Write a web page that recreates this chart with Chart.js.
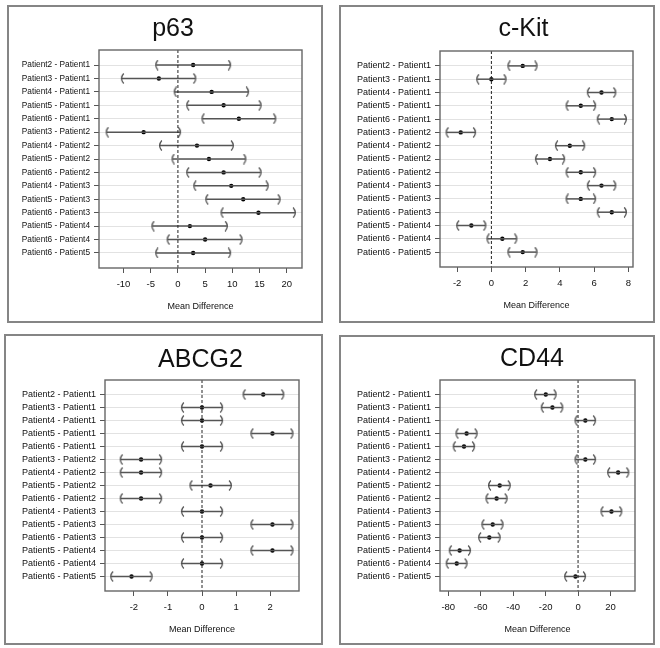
<!DOCTYPE html>
<html>
<head>
<meta charset="utf-8">
<script src="https://cdn.jsdelivr.net/npm/chart.js@4.4.1/dist/chart.umd.min.js"></script>
<style>
  body { margin: 0; background: #ffffff; }
  #wrap { position: relative; width: 660px; height: 648px; overflow: hidden; }
  .panel { position: absolute; box-sizing: border-box; border: 2px solid #858585; }
  canvas { position: absolute; left: 0; top: 0; }
</style>
</head>
<body>
<div id="wrap">
  <div class="panel" style="left:7px;top:5px;width:316px;height:318px"></div>
  <div class="panel" style="left:339px;top:5px;width:316px;height:318px"></div>
  <div class="panel" style="left:4px;top:334px;width:319px;height:311px"></div>
  <div class="panel" style="left:339px;top:335px;width:316px;height:310px"></div>
  <canvas id="p63" width="660" height="648"></canvas>
  <canvas id="ckit" width="660" height="648"></canvas>
  <canvas id="abcg2" width="660" height="648"></canvas>
  <canvas id="cd44" width="660" height="648"></canvas>
</div>
<script>
// Pairwise comparisons (same order in every panel, top to bottom)
const comparisons = [
  "Patient2 - Patient1", "Patient3 - Patient1", "Patient4 - Patient1",
  "Patient5 - Patient1", "Patient6 - Patient1", "Patient3 - Patient2",
  "Patient4 - Patient2", "Patient5 - Patient2", "Patient6 - Patient2",
  "Patient4 - Patient3", "Patient5 - Patient3", "Patient6 - Patient3",
  "Patient5 - Patient4", "Patient6 - Patient4", "Patient6 - Patient5"
];

// p63
const p63Mean  = [2.8, -3.5, 6.2, 8.4, 11.2, -6.3, 3.5, 5.7, 8.4, 9.8, 12.0, 14.8, 2.2, 5.0, 2.8];
const p63Lower = [-4.0, -10.3, -0.6, 1.7, 4.5, -13.1, -3.3, -1.0, 1.7, 3.0, 5.2, 8.0, -4.7, -1.9, -4.0];
const p63Upper = [9.6, 3.2, 12.9, 15.2, 17.9, 0.4, 10.1, 12.4, 15.2, 16.5, 18.7, 21.5, 9.0, 11.7, 9.6];
const p63Ticks = [-10, -5, 0, 5, 10, 15, 20];

// c-Kit
const ckitMean  = [1.83, 0, 6.43, 5.22, 7.03, -1.79, 4.58, 3.42, 5.22, 6.43, 5.22, 7.03, -1.17, 0.64, 1.83];
const ckitLower = [0.99, -0.83, 5.63, 4.39, 6.21, -2.62, 3.77, 2.6, 4.39, 5.63, 4.39, 6.21, -2.0, -0.23, 0.99];
const ckitUpper = [2.64, 0.83, 7.24, 6.06, 7.86, -0.95, 5.42, 4.25, 6.06, 7.24, 6.06, 7.86, -0.35, 1.46, 2.64];
const ckitTicks = [-2, 0, 2, 4, 6, 8];

// ABCG2
const abcg2Mean  = [1.8, 0, 0, 2.07, 0, -1.79, -1.79, 0.25, -1.79, 0, 2.07, 0, 2.07, 0, -2.07];
const abcg2Lower = [1.22, -0.59, -0.59, 1.45, -0.59, -2.39, -2.39, -0.34, -2.39, -0.59, 1.45, -0.59, 1.45, -0.59, -2.67];
const abcg2Upper = [2.39, 0.59, 0.59, 2.66, 0.59, -1.2, -1.2, 0.85, -1.2, 0.59, 2.66, 0.59, 2.66, 0.59, -1.48];
const abcg2Ticks = [-2, -1, 0, 1, 2];

// CD44
const cd44Mean  = [-19.9, -15.8, 4.5, -68.7, -70.3, 4.5, 24.7, -48.3, -50.2, 20.6, -52.6, -54.7, -73.0, -74.8, -1.6];
const cd44Lower = [-26.5, -22.4, -1.6, -75.0, -76.7, -1.6, 18.5, -54.9, -56.5, 14.4, -59.0, -61.0, -79.1, -81.0, -8.0];
const cd44Upper = [-13.8, -9.7, 10.5, -62.5, -64.1, 10.5, 31.0, -42.1, -44.0, 26.7, -46.5, -48.3, -66.6, -68.7, 4.3];
const cd44Ticks = [-80, -60, -40, -20, 0, 20];

const FONT = '"Liberation Sans", Arial, Helvetica, sans-serif';
const Y_MIN = -1.12, Y_MAX = 15.12;
const Y_WIDTH = 95, X_HEIGHT = 44;

// small "(" and ")" images used as end caps of the intervals
function bracket(open) {
  const c = document.createElement("canvas");
  c.width = 6; c.height = 11;
  const g = c.getContext("2d");
  g.strokeStyle = "#4a4a4a";
  g.lineWidth = 1.2;
  g.beginPath();
  if (open) {
    g.moveTo(4.8, 0.5);
    g.quadraticCurveTo(0.4, 5.5, 4.8, 10.5);
  } else {
    g.moveTo(1.2, 0.5);
    g.quadraticCurveTo(5.6, 5.5, 1.2, 10.5);
  }
  g.stroke();
  return c;
}
const openBr = bracket(true);
const closeBr = bracket(false);

// plot frame + big panel title
const panelDecor = {
  id: "panelDecor",
  afterDraw(chart, args, opts) {
    const { ctx, chartArea: a } = chart;
    ctx.save();
    ctx.strokeStyle = "#666";
    ctx.lineWidth = 1.4;
    ctx.strokeRect(a.left, a.top, a.right - a.left, a.bottom - a.top);
    ctx.fillStyle = "#111";
    ctx.font = "25px " + FONT;
    ctx.textAlign = "center";
    ctx.textBaseline = "alphabetic";
    ctx.fillText(opts.text, opts.x, opts.y);
    ctx.restore();
  }
};

function makePanel(id, cfg) {
  const datasets = [];

  // dashed reference line at zero
  datasets.push({
    data: [{ x: 0, y: Y_MIN }, { x: 0, y: Y_MAX }],
    showLine: true,
    borderColor: "#222",
    borderWidth: 1,
    borderDash: [3, 2],
    pointRadius: 0
  });

  // confidence intervals
  comparisons.forEach((name, i) => {
    datasets.push({
      data: [{ x: cfg.lower[i], y: i }, { x: cfg.upper[i], y: i }],
      showLine: true,
      borderColor: "#555",
      borderWidth: 1.5,
      pointStyle: [openBr, closeBr],
      pointRadius: 4
    });
  });

  // mean differences
  datasets.push({
    data: cfg.mean.map((m, i) => ({ x: m, y: i })),
    pointRadius: 2.2,
    pointBackgroundColor: "#000",
    pointBorderWidth: 0
  });

  new Chart(document.getElementById(id), {
    type: "scatter",
    data: { datasets },
    options: {
      responsive: false,
      animation: false,
      devicePixelRatio: 1,
      layout: {
        padding: {
          left: cfg.area.left - Y_WIDTH,
          right: 660 - cfg.area.right,
          top: cfg.area.top,
          bottom: 648 - cfg.area.bottom - X_HEIGHT
        }
      },
      plugins: {
        legend: { display: false },
        tooltip: { enabled: false },
        panelDecor: { text: cfg.title, x: cfg.titleX, y: cfg.titleY }
      },
      scales: {
        x: {
          type: "linear",
          min: cfg.xMin,
          max: cfg.xMax,
          afterBuildTicks: (axis) => { axis.ticks = cfg.ticks.map((v) => ({ value: v })); },
          afterFit: (s) => { s.height = X_HEIGHT; },
          border: { display: false },
          grid: { drawOnChartArea: false, drawTicks: true, tickLength: 5, tickColor: "#555" },
          ticks: { font: { family: FONT, size: 9.5 }, color: "#111", padding: 6, maxRotation: 0 },
          title: {
            display: true,
            text: "Mean Difference",
            font: { family: FONT, size: 9 },
            color: "#111",
            padding: { top: 0, bottom: 0 }
          }
        },
        y: {
          type: "linear",
          reverse: true,
          min: Y_MIN,
          max: Y_MAX,
          afterBuildTicks: (axis) => { axis.ticks = comparisons.map((_, i) => ({ value: i })); },
          afterFit: (s) => { s.width = Y_WIDTH; },
          border: { display: false },
          grid: { color: "#e2e2e2", lineWidth: 1, tickColor: "#555", tickLength: 5 },
          ticks: {
            autoSkip: false,
            font: { family: FONT, size: cfg.labelSize },
            color: "#111",
            padding: 4,
            callback: (v) => comparisons[v]
          }
        }
      }
    },
    plugins: [panelDecor]
  });
}

makePanel("p63", {
  title: "p63", titleX: 173, titleY: 35.7,
  mean: p63Mean, lower: p63Lower, upper: p63Upper, ticks: p63Ticks,
  xMin: -14.5, xMax: 22.8, labelSize: 8.3,
  area: { left: 99, right: 302, top: 50, bottom: 268 }
});
makePanel("ckit", {
  title: "c-Kit", titleX: 523.5, titleY: 35.7,
  mean: ckitMean, lower: ckitLower, upper: ckitUpper, ticks: ckitTicks,
  xMin: -3.0, xMax: 8.27, labelSize: 9,
  area: { left: 440, right: 633, top: 51, bottom: 267 }
});
makePanel("abcg2", {
  title: "ABCG2", titleX: 200.5, titleY: 367,
  mean: abcg2Mean, lower: abcg2Lower, upper: abcg2Upper, ticks: abcg2Ticks,
  xMin: -2.85, xMax: 2.85, labelSize: 9,
  area: { left: 105, right: 299, top: 380, bottom: 591 }
});
makePanel("cd44", {
  title: "CD44", titleX: 532, titleY: 366,
  mean: cd44Mean, lower: cd44Lower, upper: cd44Upper, ticks: cd44Ticks,
  xMin: -85.1, xMax: 35.1, labelSize: 9,
  area: { left: 440, right: 635, top: 380, bottom: 591 }
});
</script>
</body>
</html>
